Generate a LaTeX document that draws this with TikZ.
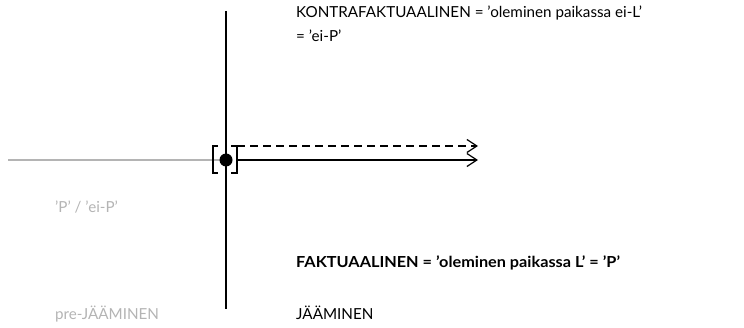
\documentclass[tikz,border=0pt]{standalone}
\usepackage{fontspec}
\setmainfont{Lato}[BoldFeatures={FakeStretch=1.07}]
\usetikzlibrary{arrows.meta, positioning, calc}
\tikzset{
  label/.style = {
    anchor=base west,
    inner sep=0pt,
    font=\fontsize{15.2}{20}\selectfont,
  },
  faded/.style = {
    label,
    text=paleGray,
  },
  goes/.style = {
    -{Straight Barb[length=10pt, width=13pt, line width=1.2pt]},
    line width=1.2pt,
  },
}
\definecolor{paleGray}{HTML}{B4B4B4}

\begin{document}
\begin{tikzpicture}[
  x=1pt, y=-1pt,
  axis/.style = {
    line width=1.5pt,
  },
  past/.style = {
    draw=paleGray,
    line width=1.5pt,
  },
  bracket/.style = {
    line width=1.3pt,
  },
]
\useasboundingbox (0,0) rectangle (744,328);

\coordinate (Top) at (226,11);
\coordinate (Bottom) at (226,309);
\coordinate (Start) at (8,160);
\coordinate (Now) at (226,160);
\coordinate (FactEnd) at (478,160);
\coordinate (CounterStart) at (237,146);
\coordinate (CounterEnd) at (478,146);

\node[label] (Counter) at (296,18) {KONTRAFAKTUAALINEN = ’oleminen paikassa ei-L’};
\node[label] (CounterP) at (296,42) {= ’ei-P’};
\node[faded] (PastP) at (55,213) {’P’ / ’ei-P’};
\node[label, font=\fontsize{15.2}{20}\selectfont\bfseries] (Fact) at (296,268) {FAKTUAALINEN = ’oleminen paikassa L’ = ’P’};
\node[faded] (Pre) at (55,320) {pre-JÄÄMINEN};
\node[label] (Remain) at (296,320) {JÄÄMINEN};

\draw[past] (Start) -- (Now);
\draw[axis] (Top) -- (Bottom);

% brackets round the point
\draw[bracket] ($(Now)+(-8,-14)$) -- ++(-5,0) -- ++(0,27) -- ++(5,0);
\draw[bracket] ($(Now)+(5,-14)$) -- ++(6,0) -- ++(0,27) -- ++(-6,0);

\draw[goes] ($(Now)+(11,0)$) -- (FactEnd);
\draw[goes, dash pattern=on 8pt off 5pt] (CounterStart) -- (CounterEnd);

\fill (Now) circle (6.5);
\end{tikzpicture}
\end{document}
